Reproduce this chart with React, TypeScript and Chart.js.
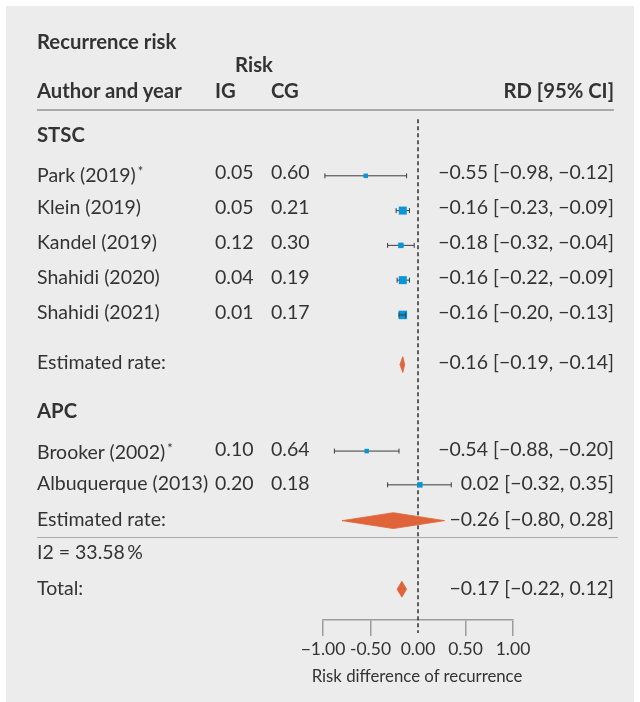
import React, { useEffect, useRef } from "react";
import { Chart, registerables } from "chart.js";

Chart.register(...registerables);

// ---------- data ----------
const studyNames = ["Park (2019)", "Klein (2019)", "Kandel (2019)", "Shahidi (2020)", "Shahidi (2021)", "Brooker (2002)", "Albuquerque (2013)"];
const studyStar = [true, false, false, false, false, true, false];
const studyGroup = ["STSC", "STSC", "STSC", "STSC", "STSC", "APC", "APC"];
const riskIG = [0.05, 0.05, 0.12, 0.04, 0.01, 0.1, 0.2];
const riskCG = [0.6, 0.21, 0.3, 0.19, 0.17, 0.64, 0.18];
const rdValue = [-0.55, -0.16, -0.18, -0.16, -0.16, -0.54, 0.02];
const rdLower = [-0.98, -0.23, -0.32, -0.22, -0.2, -0.88, -0.32];
const rdUpper = [-0.12, -0.09, -0.04, -0.09, -0.13, -0.2, 0.35];
const studyWeight = [4.5, 8, 5.5, 8, 8.5, 4.5, 5.5];

const pooledNames = ["Estimated rate:", "Estimated rate:", "Total:"];
const pooledValue = [-0.16, -0.26, -0.17];
const pooledLower = [-0.19, -0.8, -0.22];
const pooledUpper = [-0.14, 0.28, -0.12];
const pooledText = ["−0.16 [−0.19, −0.14]", "−0.26 [−0.80, 0.28]", "−0.17 [−0.22, 0.12]"];

const groupNames = ["STSC", "APC"];
const heterogeneityText = "I2 = 33.58\u2009%";
const tickLabels = ["−1.00", "-0.50", "0.00", "0.50", "1.00"];
const axisTitle = "Risk difference of recurrence";

// ---------- layout / style ----------
const W = 640;
const H = 702;
const PLOT_LEFT = 323;
const PLOT_RIGHT = 513;
const AXIS_Y = 620;
const studyRowY = [173, 208, 243, 278, 313, 450, 484];
const pooledRowY = [363, 520, 589];
const groupRowY = [136, 412];
const ZERO_TOP = 116;
const ZERO_BOTTOM = 633;
const DIAMOND_HALF = 8;

const BG = "#ebeceb";
const TEXT = "#333333";
const BLUE = "#0a95d6";
const ORANGE = "#e0643a";
const LINE = "#3c3c3c";
const AXIS = "#9c9c9c";
const FONT = "Lato, 'Noto Sans', sans-serif";
const FS = 19.5;
const FS_BOLD = 20.3;
const TEXT_SHIFT = -2;

const COL_NAME = 37;
const COL_IG = 215;
const COL_CG = 271;
const COL_RD = 614;

const fmt = (v: number) => (v < 0 ? "−" : "") + Math.abs(v).toFixed(2);

function T(props: { x: number; y: number; children: React.ReactNode; align?: "left" | "right" | "center"; bold?: boolean; size?: number }) {
  const { x, y, children, align = "left", bold = false } = props;
  const size = props.size ?? (bold ? FS_BOLD : FS);
  const lh = Math.round(size * 1.3);
  const style: React.CSSProperties = {
    position: "absolute",
    left: x,
    top: y - lh / 2 + TEXT_SHIFT,
    height: lh,
    lineHeight: `${lh}px`,
    fontSize: size,
    fontWeight: bold ? 700 : 400,
    whiteSpace: "nowrap",
    color: TEXT,
    fontFamily: FONT,
    transform: align === "right" ? "translateX(-100%)" : align === "center" ? "translateX(-50%)" : undefined,
  };
  return <div style={style}>{children}</div>;
}

export default function App() {
  const ref = useRef<HTMLCanvasElement>(null);

  useEffect(() => {
    if (!ref.current) return;
    const datasets: any[] = [];

    datasets.push({
      data: [{ x: 0, y: ZERO_TOP }, { x: 0, y: ZERO_BOTTOM }],
      borderColor: "#2e2e2e",
      borderWidth: 1.5,
      borderDash: [4, 3],
      pointRadius: 0,
      clip: false,
      order: 6,
    });

    studyNames.forEach((_, i) => {
      const boxUnits = (studyWeight[i] / (PLOT_RIGHT - PLOT_LEFT)) * 2;
      const narrow = rdUpper[i] - rdLower[i] < boxUnits;
      datasets.push({
        data: [{ x: rdLower[i], y: studyRowY[i] }, { x: rdUpper[i], y: studyRowY[i] }],
        borderColor: LINE,
        borderWidth: 1,
        pointStyle: "line",
        pointRotation: 90,
        pointRadius: 2.5,
        pointHoverRadius: 2.5,
        pointBorderColor: LINE,
        pointBorderWidth: 1,
        order: narrow ? 0 : 3,
      });
    });

    datasets.push({
      data: studyNames.map((_, i) => ({ x: rdValue[i], y: studyRowY[i] })),
      showLine: false,
      pointStyle: "rect",
      pointRadius: studyWeight.map((w) => w / Math.SQRT2),
      pointHoverRadius: studyWeight.map((w) => w / Math.SQRT2),
      pointBackgroundColor: BLUE,
      pointBorderWidth: 0,
      pointBorderColor: BLUE,
      order: 1,
    });

    pooledNames.forEach((_, i) => {
      const y = pooledRowY[i];
      datasets.push({
        data: [
          { x: pooledLower[i], y },
          { x: pooledValue[i], y: y - DIAMOND_HALF },
          { x: pooledUpper[i], y },
          { x: pooledValue[i], y: y + DIAMOND_HALF },
          { x: pooledLower[i], y },
        ],
        fill: "shape",
        backgroundColor: ORANGE,
        borderColor: ORANGE,
        borderWidth: 0.8,
        pointRadius: 0,
        order: 2,
      });
    });

    const chart = new Chart(ref.current, {
      type: "line",
      data: { datasets },
      options: {
        animation: false,
        responsive: false,
        devicePixelRatio: 1,
        events: [],
        layout: { padding: { left: PLOT_LEFT, right: W - PLOT_RIGHT, top: 0, bottom: 0 } },
        plugins: { legend: { display: false }, tooltip: { enabled: false }, title: { display: false } },
        scales: {
          x: {
            type: "linear",
            position: "bottom",
            min: -1,
            max: 1,
            afterFit: (s: any) => {
              s.height = H - AXIS_Y;
              s.paddingLeft = 0;
              s.paddingRight = 0;
            },
            ticks: {
              stepSize: 0.5,
              autoSkip: false,
              maxRotation: 0,
              padding: 3,
              color: TEXT,
              font: { family: FONT, size: 17.5 },
              callback: (_v: any, i: number) => tickLabels[i],
            },
            grid: {
              drawOnChartArea: false,
              drawTicks: true,
              tickLength: 16,
              lineWidth: 1.5,
              color: (ctx: any) => (ctx.tick && ctx.tick.value === 0 ? "rgba(0,0,0,0)" : AXIS),
            },
            border: { display: true, color: AXIS, width: 1.5 },
            title: { display: false },
          },
          y: { type: "linear", min: 0, max: AXIS_Y, reverse: true, display: false },
        },
      },
    } as any);
    return () => chart.destroy();
  }, []);

  return (
    <div style={{ position: "absolute", left: 0, top: 0, width: W, height: H, overflow: "hidden", background: "#fff" }}>
      <div style={{ position: "absolute", left: 6, top: 6, width: 628, height: H - 6, background: BG }} />
      <div style={{ position: "absolute", left: COL_NAME, top: 109, width: COL_RD - COL_NAME, height: 2, background: "#a9a9a9" }} />
      <div style={{ position: "absolute", left: COL_NAME, top: 537, width: 618 - COL_NAME, height: 1, background: "#a9a9a9" }} />
      <canvas ref={ref} width={W} height={H} style={{ position: "absolute", left: 0, top: 0, width: W, height: H }} />

      <T x={COL_NAME} y={43} bold>Recurrence risk</T>
      <T x={254} y={66} bold align="center">Risk</T>
      <T x={COL_NAME} y={92} bold>Author and year</T>
      <T x={COL_IG} y={92} bold>IG</T>
      <T x={COL_CG} y={92} bold>CG</T>
      <T x={COL_RD} y={92} bold align="right">RD [95% CI]</T>

      {groupNames.map((g, i) => (
        <T key={g} x={COL_NAME} y={groupRowY[i]} bold>{g}</T>
      ))}

      {studyNames.map((s, i) => (
        <React.Fragment key={s}>
          <T x={COL_NAME} y={studyRowY[i]}>
            {s}
            {studyStar[i] ? <span style={{ fontSize: 13, verticalAlign: "6px", marginLeft: 2 }}>*</span> : null}
          </T>
          <T x={COL_IG} y={studyRowY[i]}>{riskIG[i].toFixed(2)}</T>
          <T x={COL_CG} y={studyRowY[i]}>{riskCG[i].toFixed(2)}</T>
          <T x={COL_RD} y={studyRowY[i]} align="right">{`${fmt(rdValue[i])} [${fmt(rdLower[i])}, ${fmt(rdUpper[i])}]`}</T>
        </React.Fragment>
      ))}

      {pooledNames.map((p, i) => (
        <React.Fragment key={i}>
          <T x={COL_NAME} y={pooledRowY[i]}>{p}</T>
          <T x={COL_RD} y={pooledRowY[i]} align="right">{pooledText[i]}</T>
        </React.Fragment>
      ))}

      <T x={COL_NAME} y={553}>{heterogeneityText}</T>
      <T x={(PLOT_LEFT + PLOT_RIGHT) / 2 - 1} y={678} size={16.8} align="center">{axisTitle}</T>
    </div>
  );
}
